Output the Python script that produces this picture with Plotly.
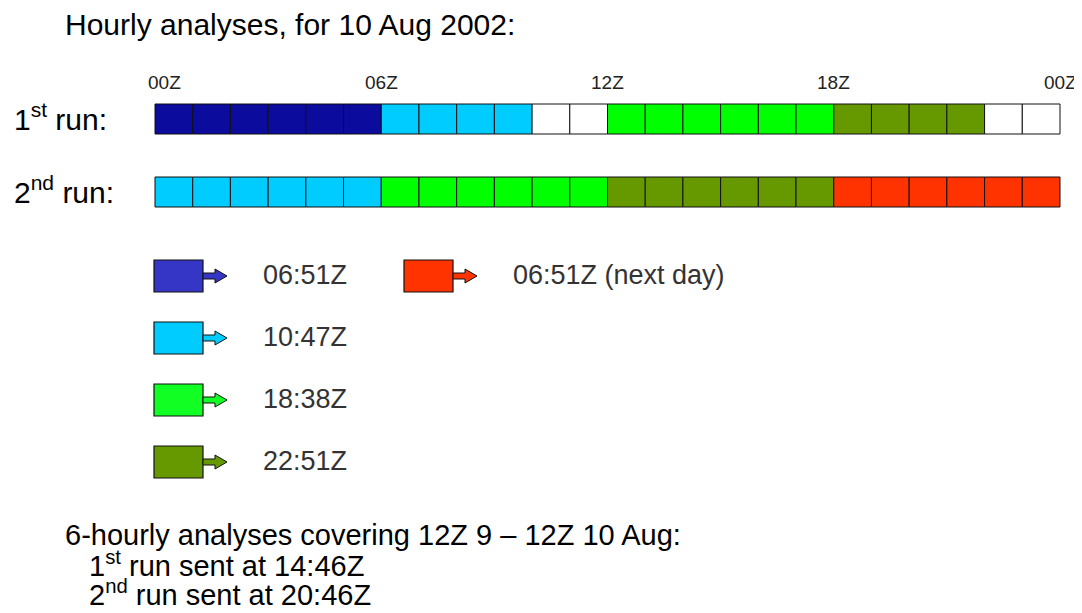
import plotly.graph_objects as go

# ---------------- data ----------------
hours = list(range(24))
run1_release = ["06:51Z"] * 6 + ["10:47Z"] * 4 + ["none"] * 2 + ["18:38Z"] * 6 + ["22:51Z"] * 4 + ["none"] * 2
run2_release = ["10:47Z"] * 6 + ["18:38Z"] * 6 + ["22:51Z"] * 6 + ["06:51Z (next day)"] * 6
run_labels = ["1<sup>st</sup> run:", "2<sup>nd</sup> run:"]
tick_hours = [0, 6, 12, 18, 24]
tick_labels = ["00Z", "06Z", "12Z", "18Z", "00Z"]
legend_times = ["06:51Z", "10:47Z", "18:38Z", "22:51Z", "06:51Z (next day)"]
title_text = "Hourly analyses, for 10 Aug 2002:"
footer_lines = [
    "6-hourly analyses covering 12Z 9 \u2013 12Z 10 Aug:",
    "1<sup>st</sup> run sent at 14:46Z",
    "2<sup>nd</sup> run sent at 20:46Z",
]

# ---------------- styles ----------------
bar_colors = {
    "06:51Z": "#0B0B9E",
    "10:47Z": "#00CCFF",
    "18:38Z": "#00FF00",
    "22:51Z": "#669900",
    "06:51Z (next day)": "#FF3300",
    "none": "#FFFFFF",
}
swatch_colors = {
    "06:51Z": "#3535C6",
    "10:47Z": "#00CCFF",
    "18:38Z": "#11FF22",
    "22:51Z": "#669900",
    "06:51Z (next day)": "#FF3300",
}
FONT = "Liberation Sans, Arial, sans-serif"
WIN_W, WIN_H = 1082, 613
PAGE_OFF = 8  # default page margin around the figure
X0_PX, X24_PX = 155, 1060
PPH = (X24_PX - X0_PX) / 24.0
ROW0_PX, ROW_STEP = 119, 73
ROW_H = 30


def hx(px):
    return (px - X0_PX) / PPH


def vy(py):
    return (py - ROW0_PX) / ROW_STEP


fig = go.Figure()
for r, rel in enumerate([run1_release, run2_release]):
    fig.add_trace(go.Bar(
        orientation="h",
        x=[1] * len(hours),
        base=hours,
        y=[r] * len(hours),
        width=ROW_H / ROW_STEP,
        marker=dict(color=[bar_colors[k] for k in rel], line=dict(color="#111111", width=1)),
        hoverinfo="skip",
        showlegend=False,
    ))

annotations = []
# title
annotations.append(dict(text=title_text, x=hx(63), y=vy(24), xref="x", yref="y",
                        xanchor="left", yanchor="middle", showarrow=False,
                        font=dict(family=FONT, size=30, color="#000000")))
# tick labels
for i, (h, lab) in enumerate(zip(tick_hours, tick_labels)):
    annotations.append(dict(text=lab, x=h, y=vy(82), xref="x", yref="y",
                            xanchor="center", yanchor="middle", showarrow=False,
                            xshift=9 if i == 0 else 0,
                            font=dict(family=FONT, size=19, color="#222222")))
# row labels
for r, lab in enumerate(run_labels):
    annotations.append(dict(text=lab, x=hx(12), y=r + vy(117), xref="x", yref="y",
                            xanchor="left", yanchor="middle", showarrow=False,
                            font=dict(family=FONT, size=30, color="#000000")))

# legend
leg_x = [154, 154, 154, 154, 404]
leg_y = [276, 338, 400, 462, 276]
shapes = []
BW, BH = 49, 32
for t, lx, ly in zip(legend_times, leg_x, leg_y):
    c = swatch_colors[t]
    shapes.append(dict(type="rect", xref="x", yref="y",
                       x0=hx(lx), x1=hx(lx + BW), y0=vy(ly - BH / 2), y1=vy(ly + BH / 2),
                       fillcolor=c, line=dict(color="#111111", width=1.2)))
    sx0 = lx + BW
    sx1 = sx0 + 12
    tip = sx0 + 24
    pts = [(sx0, ly - 3), (sx1, ly - 3), (sx1, ly - 7), (tip, ly), (sx1, ly + 7), (sx1, ly + 3), (sx0, ly + 3)]
    path = "M " + " L ".join(f"{hx(px):.4f},{vy(py):.4f}" for px, py in pts) + " Z"
    shapes.append(dict(type="path", xref="x", yref="y", path=path,
                       fillcolor=c, line=dict(color="#111111", width=1)))
    annotations.append(dict(text=t, x=hx(sx0 + 58), y=vy(ly - 1), xref="x", yref="y",
                            xanchor="left", yanchor="middle", showarrow=False,
                            font=dict(family=FONT, size=27, color="#333333")))

# footer
foot_x = [63, 87, 87]
foot_y = [535, 564, 593]
for txt, fx, fy in zip(footer_lines, foot_x, foot_y):
    annotations.append(dict(text=txt, x=hx(fx), y=vy(fy), xref="x", yref="y",
                            xanchor="left", yanchor="middle", showarrow=False,
                            font=dict(family=FONT, size=29, color="#000000")))

fig.update_layout(
    width=WIN_W - PAGE_OFF, height=WIN_H - PAGE_OFF, autosize=False,
    margin=dict(l=0, r=0, t=0, b=0),
    paper_bgcolor="#FFFFFF", plot_bgcolor="#FFFFFF",
    barmode="overlay",
    xaxis=dict(range=[hx(PAGE_OFF), hx(WIN_W)], visible=False, fixedrange=True),
    yaxis=dict(range=[vy(WIN_H), vy(PAGE_OFF)], visible=False, fixedrange=True),
    shapes=shapes, annotations=annotations,
    showlegend=False, hovermode=False,
)

fig.write_html("out.html", config=dict(displayModeBar=False, staticPlot=True))
